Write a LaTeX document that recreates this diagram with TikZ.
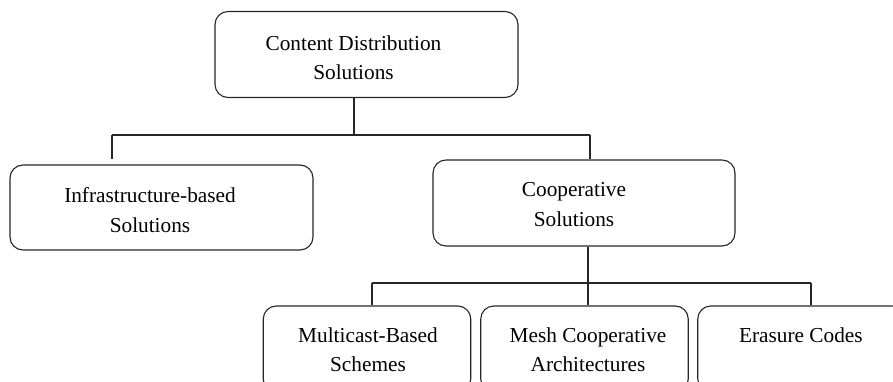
\documentclass[tikz,border=0pt]{standalone}
\usepackage{fontspec}
\setmainfont{Liberation Serif}
\usetikzlibrary{calc}

\begin{document}
\begin{tikzpicture}[x=1pt, y=-1pt,
        box/.style={draw=black!85, line width=1.1pt, rounded corners=13pt,
            inner sep=0pt, minimum height=86pt},
        txt/.style={align=center, inner sep=0pt,
            font=\fontsize{21.3}{29.5}\selectfont},
        wire/.style={draw=black!85, line width=1.1pt}]
        \useasboundingbox (0,0) rectangle (893,382);
        \clip (0,0) rectangle (893,382);

        % boxes
        \node[box, minimum width=303pt] (cTop) at (366.5,54.5) {};
        \node[box, minimum width=303pt, minimum height=85pt] (cInfra) at (161.5,207.5) {};
        \node[box, minimum width=302pt] (cCoop) at (584,203) {};
        \foreach \n/\x in {cMulti/367, cMesh/584.5, cErase/801.5}
        {
            \node[box, minimum width=207.5pt] (\n) at (\x,349) {};
        };

        % labels
        \node[txt] (tTop) at ($(cTop.center)+(-13,3)$) {Content Distribution\\Solutions};
        \node[txt] (tInfra) at ($(cInfra.center)+(-11.5,2.5)$) {Infrastructure-based\\Solutions};
        \node[txt] (tCoop) at ($(cCoop.center)+(-10,1.5)$) {Cooperative\\Solutions};
        \foreach \n/\d/\t in {
            cMulti/1/{Multicast-Based\\Schemes},
            cMesh/3.5/{Mesh Cooperative\\Architectures},
            cErase/2/{Erasure Codes}
        }
        {
            \node[txt, anchor=north] (t\n) at ($(\n.north)+(\d,22)$) {\t};
        };

        % junctions
        \coordinate (jTop) at (354,135);
        \coordinate (jInfra) at (112,135);
        \coordinate (jCoop) at (590,135);
        \coordinate (jBot) at (588,283);
        \coordinate (jMulti) at (372,283);
        \coordinate (jErase) at (811,283);

        \draw[wire] (cTop.south -| jTop) -- (jTop);
        \draw[wire] (jInfra) -- (jCoop);
        \draw[wire, shorten >=5pt] (jInfra) -- (cInfra.north -| jInfra);
        \draw[wire] (jCoop) -- (cCoop.north -| jCoop);
        \draw[wire] (cCoop.south -| jBot) -- (cMesh.north -| jBot);
        \draw[wire] (jMulti) -- (jErase);
        \draw[wire] (jMulti) -- (cMulti.north -| jMulti);
        \draw[wire] (jErase) -- (cErase.north -| jErase);
\end{tikzpicture}
\end{document}
